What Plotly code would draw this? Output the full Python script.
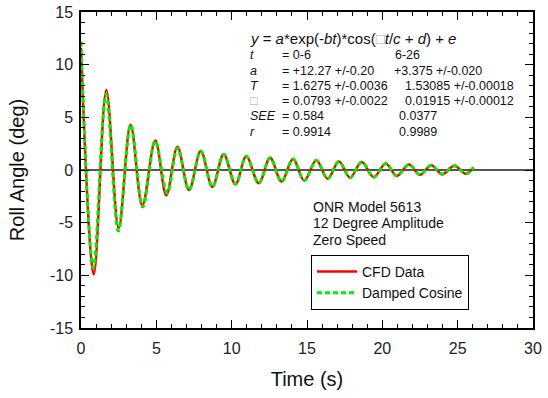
import plotly.graph_objects as go

# ---- data (extrema of the roll-decay record) ----
cfd_t = [0.0, 0.85, 1.68, 2.50, 3.29, 4.07, 4.93, 5.66,
         6.40, 7.17, 7.95, 8.72, 9.47, 10.25, 10.97, 11.80, 12.55, 13.31,
         14.07, 14.82, 15.62, 16.37, 17.12, 17.86, 18.63, 19.43, 20.22,
         20.96, 21.76, 22.50, 23.24, 23.97, 24.78, 25.55, 26.05]
cfd_deg = [11.6, -9.9, 7.6, -5.5, 4.3, -3.35, 2.8, -2.4,
           2.2, -1.9, 1.8, -1.6, 1.5, -1.36, 1.3, -1.25, 1.17, -1.1,
           1.04, -1.0, 0.92, -0.82, 0.8, -0.73, 0.76, -0.68, 0.62,
           -0.56, 0.52, -0.46, 0.46, -0.4, 0.4, -0.36, 0.25]

fit_t = [0.0, 0.82, 1.66, 2.48, 3.30, 4.10, 4.92, 5.72,
         6.40, 7.17, 7.95, 8.72, 9.47, 10.25, 10.97, 11.80, 12.55, 13.31,
         14.07, 14.82, 15.62, 16.37, 17.12, 17.86, 18.63, 19.43, 20.22,
         20.96, 21.76, 22.50, 23.24, 23.97, 24.78, 25.55, 26.05]
fit_deg = [12.2, -9.3, 7.2, -5.8, 4.3, -3.5, 2.75, -2.2,
           2.1, -1.9, 1.8, -1.6, 1.5, -1.36, 1.3, -1.25, 1.17, -1.1,
           1.04, -1.0, 0.92, -0.82, 0.8, -0.73, 0.76, -0.68, 0.62,
           -0.56, 0.52, -0.46, 0.46, -0.4, 0.4, -0.36, 0.25]

x_ticks = [0, 5, 10, 15, 20, 25, 30]
y_ticks = [-15, -10, -5, 0, 5, 10, 15]

FONT = "Liberation Sans, Arial, sans-serif"

fig = go.Figure()
fig.add_trace(go.Scatter(x=cfd_t, y=cfd_deg, mode="lines", name="CFD Data",
                         line=dict(color="#ff0000", width=2.5, shape="spline")))
fig.add_trace(go.Scatter(x=fit_t, y=fit_deg, mode="lines", name="Damped Cosine",
                         line=dict(color="#00ee00", width=3, shape="spline", dash="5px,3px")))

L, R, T, B = 81, 15, 12, 70
W, H = 548, 398
pw, ph = W - L - R, H - T - B


def px(x):
    return (x - L) / pw


def py(y):
    return (H - B - y) / ph


ann = []
box = "<span style='color:#a8a8a8'>□</span>"
ann.append(dict(x=px(248), y=py(38),
                text="<i>y</i> = <i>a</i>*exp(-<i>bt</i>)*cos(" + box + "<i>t</i>/<i>c</i> + <i>d</i>) + <i>e</i>",
                font=dict(size=15)))
rows = [
    ("<i>t</i>", "= 0-6", "6-26", 393, 55.5),
    ("<i>a</i>", "= +12.27 +/-0.20", "+3.375 +/-0.020", 391.5, 70.7),
    ("<i>T</i>", "= 1.6275 +/-0.0036", "1.53085 +/-0.00018", 402.5, 85.7),
    (box, "= 0.0793 +/-0.0022", "0.01915 +/-0.00012", 402.5, 100.7),
    ("<i>SEE</i>", "= 0.584", "0.0377", 396.5, 116),
    ("<i>r</i>", "= 0.9914", "0.9989", 396.5, 131.7),
]
for lab, c1, c2, x2, yy in rows:
    ann.append(dict(x=px(248), y=py(yy), text=lab, font=dict(size=12.5)))
    ann.append(dict(x=px(279.5), y=py(yy), text=c1, font=dict(size=12.5)))
    ann.append(dict(x=px(x2), y=py(yy), text=c2, font=dict(size=12.5)))
for i, s in enumerate(["ONR Model 5613", "12 Degree Amplitude", "Zero Speed"]):
    ann.append(dict(x=px(311), y=py(206.7 + 16.7 * i), text=s, font=dict(size=14)))
for a in ann:
    a.update(xref="paper", yref="paper", xanchor="left", yanchor="middle",
             showarrow=False)
    a["font"].update(family=FONT, color="#111")

axis_common = dict(showgrid=False, showline=True, linecolor="black", linewidth=1.5,
                   mirror="allticks", ticks="inside", ticklen=8, tickwidth=1.2,
                   tickcolor="black", automargin=False,
                   tickfont=dict(family=FONT, size=16, color="#222"),
                   minor=dict(ticks="inside", ticklen=4, tickwidth=1, tickcolor="black",
                              dtick=1, showgrid=False))

fig.update_layout(
    width=W, height=H,
    margin=dict(l=L, r=R, t=T, b=B),
    paper_bgcolor="white", plot_bgcolor="white",
    font=dict(family=FONT, color="#111"),
    annotations=ann,
    showlegend=True,
    legend=dict(x=px(311), y=py(255), xanchor="left", yanchor="top",
                bordercolor="black", borderwidth=1, bgcolor="white",
                font=dict(family=FONT, size=14, color="#111"),
                itemwidth=40, tracegroupgap=0),
    xaxis=dict(range=[0, 30], tickmode="array", tickvals=x_ticks,
               ticktext=[str(v) for v in x_ticks], zeroline=False,
               ticklabelstandoff=5,
               title=dict(text="Time (s)", font=dict(family=FONT, size=20, color="#111"),
                          standoff=16),
               **axis_common),
    yaxis=dict(range=[-15, 15], tickmode="array", tickvals=y_ticks,
               ticktext=[str(v) for v in y_ticks], zeroline=True,
               zerolinecolor="#555", zerolinewidth=1.8,
               ticklabelstandoff=3,
               title=dict(text="Roll Angle (deg)", font=dict(family=FONT, size=20, color="#111"),
                          standoff=20),
               **axis_common),
)

fig.write_html("out.html")
